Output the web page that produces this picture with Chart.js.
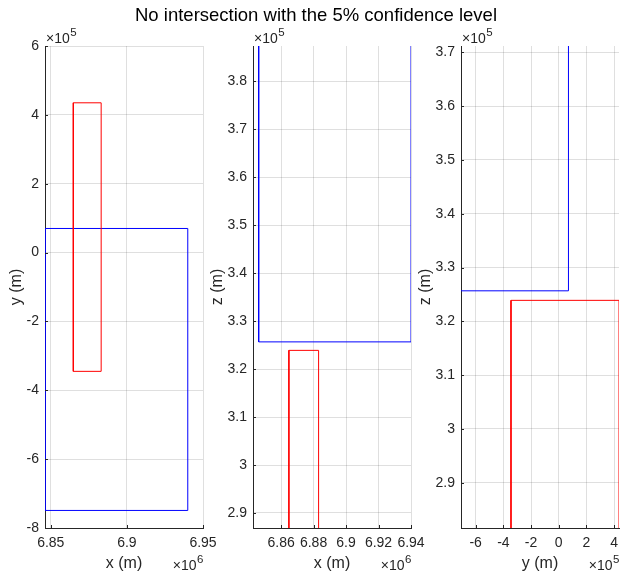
<!DOCTYPE html>
<html>
<head>
<meta charset="utf-8">
<script src="https://cdn.jsdelivr.net/npm/chart.js@4/dist/chart.umd.min.js"></script>
<style>
  html, body { margin: 0; padding: 0; background: #fff; }
  #wrap { position: relative; width: 620px; height: 577px; }
  #wrap canvas { position: absolute; left: 0; top: 0; }
</style>
</head>
<body>
<div id="wrap">
  <canvas id="xy" width="620" height="577"></canvas>
  <canvas id="xz" width="620" height="577"></canvas>
  <canvas id="yz" width="620" height="577"></canvas>
</div>
<script>
const titleText = 'No intersection with the 5% confidence level';

// box extents (m)
const blueX = [6.8462e6, 6.94e6];
const blueY = [-7.49e5, 0.70e5];
const blueZ = [3.2567e5, 3.95e5];
const redX  = [6.8648e6, 6.8831e6];
const redY  = [-3.45e5, 4.35e5];
const redZ  = [2.75e5, 3.239e5];

// axis limits
const xyXLim = [6.8462e6, 6.95e6];
const xyYLim = [-8e5, 6e5];
const xzXLim = [6.8427e6, 6.94e6];
const xzZLim = [2.8687e5, 3.8735e5];
const yzYLim = [-7.06e5, 4.35e5];
const yzZLim = [2.8159e5, 3.7117e5];

// tick labels (in units of the axis exponent)
const xyXTicks = [6.85, 6.9, 6.95];
const xyYTicks = [-8, -6, -4, -2, 0, 2, 4, 6];
const xzXTicks = [6.86, 6.88, 6.9, 6.92, 6.94];
const xzZTicks = [2.9, 3, 3.1, 3.2, 3.3, 3.4, 3.5, 3.6, 3.7, 3.8];
const yzYTicks = [-6, -4, -2, 0, 2, 4];
const yzZTicks = [2.9, 3, 3.1, 3.2, 3.3, 3.4, 3.5, 3.6, 3.7];

const FONT = "'Liberation Sans', Arial, Helvetica, sans-serif";
const axisColor = '#262626';
const gridColor = 'rgba(38,38,38,0.15)';

const rect = (a, b) => [
  { x: a[0], y: b[0] }, { x: a[1], y: b[0] },
  { x: a[1], y: b[1] }, { x: a[0], y: b[1] },
  { x: a[0], y: b[0] },
];

const rectSet = (pts, color) => ({
  data: pts,
  showLine: true,
  borderColor: color,
  borderWidth: 1,
  pointRadius: 0,
  tension: 0,
  fill: false,
});

const axis = (lim, ticks, exp, horizontal) => ({
  type: 'linear',
  min: lim[0], max: lim[1],
  afterBuildTicks: s => { s.ticks = ticks.map(v => ({ value: v * Math.pow(10, exp) })); },
  afterFit: s => {
    // fixed box sizes so the plot areas line up with the figure
    if (horizontal) { s.height = 30; s.paddingLeft = 0; s.paddingRight = 0; }
    else { s.width = 40; s.paddingTop = 0; s.paddingBottom = 0; }
  },
  ticks: {
    color: axisColor,
    font: { family: FONT, size: 14 },
    padding: horizontal ? 7 : 6,
    maxRotation: 0,
    autoSkip: false,
    callback: (v, i) => String(ticks[i]),
  },
  grid: { color: gridColor, drawTicks: false },
  border: { display: true, color: axisColor, width: 1 },
});

// axis titles, exponents and inward tick marks
const decor = {
  id: 'decor',
  afterDraw(chart, args, o) {
    const { ctx, chartArea: a, scales } = chart;
    ctx.save();
    ctx.fillStyle = axisColor;
    ctx.strokeStyle = axisColor;
    ctx.lineWidth = 1;

    // inward ticks
    ctx.beginPath();
    scales.x.ticks.forEach(t => {
      const px = Math.round(scales.x.getPixelForValue(t.value)) + 0.5;
      ctx.moveTo(px, a.bottom); ctx.lineTo(px, a.bottom - 3);
    });
    scales.y.ticks.forEach(t => {
      const py = Math.round(scales.y.getPixelForValue(t.value)) + 0.5;
      ctx.moveTo(a.left, py); ctx.lineTo(a.left + 3, py);
    });
    ctx.stroke();

    const expo = (x, y, p, align) => {
      ctx.font = `14px ${FONT}`;
      const w1 = ctx.measureText('×10').width;
      ctx.font = `11.5px ${FONT}`;
      const w2 = ctx.measureText(p).width;
      const x0 = align === 'right' ? x - w1 - w2 : x;
      ctx.textAlign = 'left';
      ctx.textBaseline = 'alphabetic';
      ctx.font = `14px ${FONT}`;
      ctx.fillText('×10', x0, y);
      ctx.font = `11.5px ${FONT}`;
      ctx.fillText(p, x0 + w1 + 0.5, y - 7);
    };
    expo(a.left + 1, a.top - 3.5, o.yExp, 'left');
    expo(a.right, a.bottom + 42, o.xExp, 'right');

    ctx.font = `16px ${FONT}`;
    ctx.textAlign = 'center';
    ctx.textBaseline = 'middle';
    ctx.fillText(o.xTitle, (a.left + a.right) / 2, a.bottom + 36);

    ctx.font = `14px ${FONT}`;
    const maxW = Math.max(...o.yTicks.map(t => ctx.measureText(String(t)).width));
    ctx.translate(a.left - 6 - maxW - 9.5, (a.top + a.bottom) / 2);
    ctx.rotate(-Math.PI / 2);
    ctx.font = `16px ${FONT}`;
    ctx.fillText(o.yTitle, 0, 0);
    ctx.restore();

    if (o.title) {
      ctx.save();
      ctx.font = `18.5px ${FONT}`;
      ctx.fillStyle = '#000';
      ctx.textAlign = 'center';
      ctx.textBaseline = 'alphabetic';
      ctx.fillText(o.title, 316, 21);
      ctx.restore();
    }
  },
};

function panel(id, left, right, xs, ys, decorOpts) {
  new Chart(document.getElementById(id), {
    type: 'scatter',
    data: { datasets: xs },
    options: {
      responsive: false,
      animation: false,
      events: [],
      layout: { padding: { left: left - 40, right: 620 - right, top: 46, bottom: 19 } },
      plugins: { legend: { display: false }, tooltip: { enabled: false }, decor: decorOpts },
      scales: { x: ys.x, y: ys.y },
    },
    plugins: [decor],
  });
}

panel('xy', 45, 203,
  [rectSet(rect(redX, redY), '#ff0000'), rectSet(rect(blueX, blueY), '#0000ff')],
  { x: axis(xyXLim, xyXTicks, 6, true), y: axis(xyYLim, xyYTicks, 5, false) },
  { xExp: '6', yExp: '5', xTitle: 'x (m)', yTitle: 'y (m)', yTicks: xyYTicks, title: titleText });

panel('xz', 253, 411,
  [rectSet(rect(redX, redZ), '#ff0000'), rectSet(rect(blueX, blueZ), '#0000ff')],
  { x: axis(xzXLim, xzXTicks, 6, true), y: axis(xzZLim, xzZTicks, 5, false) },
  { xExp: '6', yExp: '5', xTitle: 'x (m)', yTitle: 'z (m)', yTicks: xzZTicks });

panel('yz', 461, 619,
  [rectSet(rect(redY, redZ), '#ff0000'), rectSet(rect(blueY, blueZ), '#0000ff')],
  { x: axis(yzYLim, yzYTicks, 5, true), y: axis(yzZLim, yzZTicks, 5, false) },
  { xExp: '5', yExp: '5', xTitle: 'y (m)', yTitle: 'z (m)', yTicks: yzZTicks });
</script>
</body>
</html>
